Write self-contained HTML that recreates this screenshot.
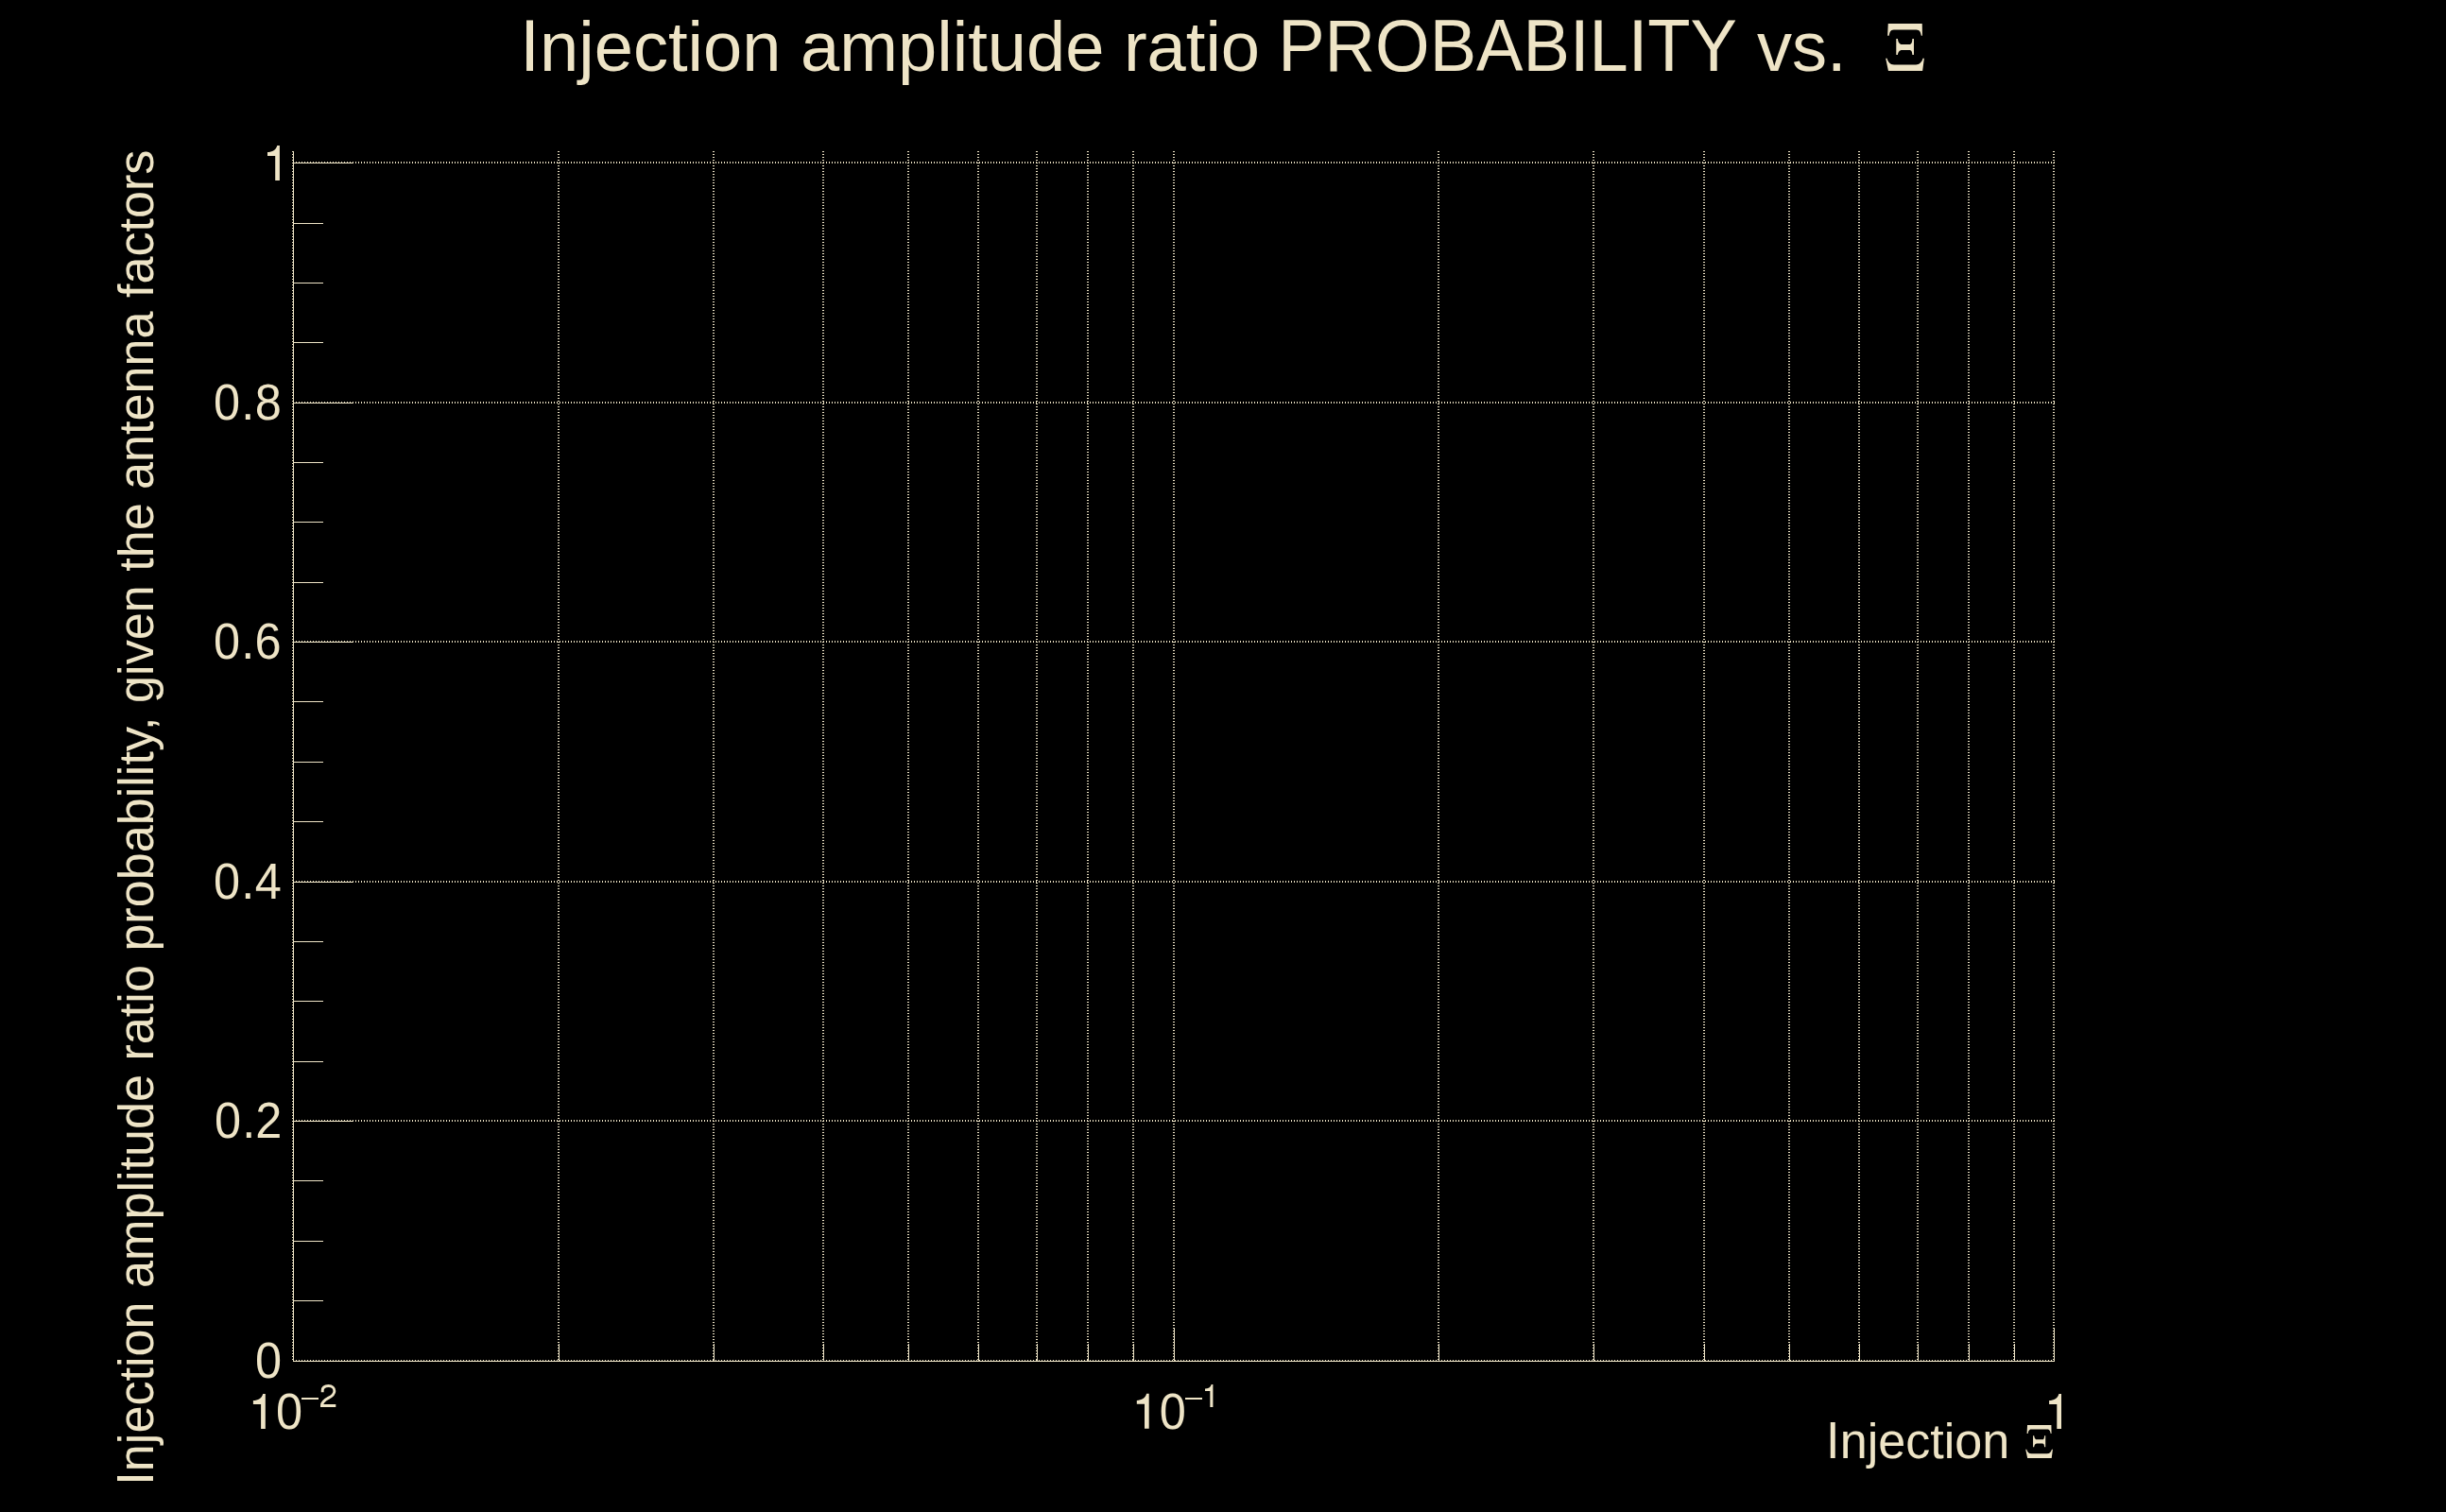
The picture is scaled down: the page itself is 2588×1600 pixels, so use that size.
<!DOCTYPE html><html><head><meta charset="utf-8"><style>html,body{margin:0;padding:0;background:#000;width:2588px;height:1600px;overflow:hidden;position:relative}svg{display:block;position:absolute;left:0;top:0}text{font-family:"Liberation Sans",sans-serif;fill:#EEE4C6}</style></head><body>
<svg width="2588" height="1600" viewBox="0 0 2588 1600" shape-rendering="crispEdges">
<defs><pattern id="pv" width="3" height="3" patternUnits="userSpaceOnUse"><rect x="0" y="1" width="3" height="1" fill="#EEE4C6"/></pattern>
<pattern id="ph" width="3" height="3" patternUnits="userSpaceOnUse"><rect x="1" y="0" width="1" height="3" fill="#EEE4C6"/></pattern></defs>
<rect width="2588" height="1600" fill="#000"/>
<rect x="309" y="160" width="2" height="1280" fill="url(#pv)"/>
<rect x="590" y="160" width="2" height="1280" fill="url(#pv)"/>
<rect x="754" y="160" width="2" height="1280" fill="url(#pv)"/>
<rect x="870" y="160" width="2" height="1280" fill="url(#pv)"/>
<rect x="960" y="160" width="2" height="1280" fill="url(#pv)"/>
<rect x="1034" y="160" width="2" height="1280" fill="url(#pv)"/>
<rect x="1096" y="160" width="2" height="1280" fill="url(#pv)"/>
<rect x="1150" y="160" width="2" height="1280" fill="url(#pv)"/>
<rect x="1198" y="160" width="2" height="1280" fill="url(#pv)"/>
<rect x="1241" y="160" width="2" height="1280" fill="url(#pv)"/>
<rect x="1521" y="160" width="2" height="1280" fill="url(#pv)"/>
<rect x="1685" y="160" width="2" height="1280" fill="url(#pv)"/>
<rect x="1802" y="160" width="2" height="1280" fill="url(#pv)"/>
<rect x="1892" y="160" width="2" height="1280" fill="url(#pv)"/>
<rect x="1966" y="160" width="2" height="1280" fill="url(#pv)"/>
<rect x="2028" y="160" width="2" height="1280" fill="url(#pv)"/>
<rect x="2082" y="160" width="2" height="1280" fill="url(#pv)"/>
<rect x="2130" y="160" width="2" height="1280" fill="url(#pv)"/>
<rect x="2172" y="160" width="2" height="1280" fill="url(#pv)"/>
<rect x="310" y="1439" width="1864" height="2" fill="url(#ph)"/>
<rect x="310" y="1185" width="1864" height="2" fill="url(#ph)"/>
<rect x="310" y="932" width="1864" height="2" fill="url(#ph)"/>
<rect x="310" y="678" width="1864" height="2" fill="url(#ph)"/>
<rect x="310" y="425" width="1864" height="2" fill="url(#ph)"/>
<rect x="310" y="171" width="1864" height="2" fill="url(#ph)"/>
<rect x="310" y="160" width="1" height="1281" fill="#EEE4C6"/>
<rect x="310" y="1440" width="1864" height="1" fill="#EEE4C6"/>
<rect x="310" y="1440" width="64" height="1" fill="#EEE4C6"/>
<rect x="310" y="1376" width="32" height="1" fill="#EEE4C6"/>
<rect x="310" y="1313" width="32" height="1" fill="#EEE4C6"/>
<rect x="310" y="1249" width="32" height="1" fill="#EEE4C6"/>
<rect x="310" y="1186" width="64" height="1" fill="#EEE4C6"/>
<rect x="310" y="1123" width="32" height="1" fill="#EEE4C6"/>
<rect x="310" y="1059" width="32" height="1" fill="#EEE4C6"/>
<rect x="310" y="996" width="32" height="1" fill="#EEE4C6"/>
<rect x="310" y="933" width="64" height="1" fill="#EEE4C6"/>
<rect x="310" y="869" width="32" height="1" fill="#EEE4C6"/>
<rect x="310" y="806" width="32" height="1" fill="#EEE4C6"/>
<rect x="310" y="742" width="32" height="1" fill="#EEE4C6"/>
<rect x="310" y="679" width="64" height="1" fill="#EEE4C6"/>
<rect x="310" y="616" width="32" height="1" fill="#EEE4C6"/>
<rect x="310" y="552" width="32" height="1" fill="#EEE4C6"/>
<rect x="310" y="489" width="32" height="1" fill="#EEE4C6"/>
<rect x="310" y="426" width="64" height="1" fill="#EEE4C6"/>
<rect x="310" y="362" width="32" height="1" fill="#EEE4C6"/>
<rect x="310" y="299" width="32" height="1" fill="#EEE4C6"/>
<rect x="310" y="236" width="32" height="1" fill="#EEE4C6"/>
<rect x="310" y="172" width="64" height="1" fill="#EEE4C6"/>
<rect x="310" y="1405" width="1" height="36" fill="#EEE4C6"/>
<rect x="591" y="1422" width="1" height="19" fill="#EEE4C6"/>
<rect x="755" y="1422" width="1" height="19" fill="#EEE4C6"/>
<rect x="871" y="1422" width="1" height="19" fill="#EEE4C6"/>
<rect x="961" y="1422" width="1" height="19" fill="#EEE4C6"/>
<rect x="1035" y="1422" width="1" height="19" fill="#EEE4C6"/>
<rect x="1097" y="1422" width="1" height="19" fill="#EEE4C6"/>
<rect x="1151" y="1422" width="1" height="19" fill="#EEE4C6"/>
<rect x="1199" y="1422" width="1" height="19" fill="#EEE4C6"/>
<rect x="1242" y="1405" width="1" height="36" fill="#EEE4C6"/>
<rect x="1522" y="1422" width="1" height="19" fill="#EEE4C6"/>
<rect x="1686" y="1422" width="1" height="19" fill="#EEE4C6"/>
<rect x="1803" y="1422" width="1" height="19" fill="#EEE4C6"/>
<rect x="1893" y="1422" width="1" height="19" fill="#EEE4C6"/>
<rect x="1967" y="1422" width="1" height="19" fill="#EEE4C6"/>
<rect x="2029" y="1422" width="1" height="19" fill="#EEE4C6"/>
<rect x="2083" y="1422" width="1" height="19" fill="#EEE4C6"/>
<rect x="2131" y="1422" width="1" height="19" fill="#EEE4C6"/>
<rect x="2173" y="1405" width="1" height="36" fill="#EEE4C6"/>
<rect x="319" y="1479" width="18" height="2" fill="#EEE4C6"/>
<rect x="1254" y="1479" width="18" height="2" fill="#EEE4C6"/>
</svg>
<svg width="2588" height="1600" viewBox="0 0 2588 1600" style="will-change:transform">
<g fill="#EEE4C6">
<path d="M2.74,0 H38.65 L38.85,12.86 H37.7 C37.2,10 36.5,6.5 32.5,6.5 H8.7 C4.8,6.5 4.2,10 3.73,12.86 H2.14 Z M11.27,16 H12.86 C13.3,19.5 14.5,22 17.5,22 H25 C27.8,22 28,19.5 28.3,16 H29.9 V33.1 H28.3 C28,30 27.8,27.9 25,27.9 H17.5 C14.5,27.9 13.3,30 12.86,33.1 H11.27 Z M0.16,36.7 H1.6 C2.8,40.5 4.5,43.4 9,43.4 H32 C36.5,43.4 38.2,40.5 39.4,36.7 H40.8 L39.05,50 H2.94 Z" transform="translate(1995.00,25.00) scale(1.0024,1.0000)"/>
<path d="M2.74,0 H38.65 L38.85,12.86 H37.7 C37.2,10 36.5,6.5 32.5,6.5 H8.7 C4.8,6.5 4.2,10 3.73,12.86 H2.14 Z M11.27,16 H12.86 C13.3,19.5 14.5,22 17.5,22 H25 C27.8,22 28,19.5 28.3,16 H29.9 V33.1 H28.3 C28,30 27.8,27.9 25,27.9 H17.5 C14.5,27.9 13.3,30 12.86,33.1 H11.27 Z M0.16,36.7 H1.6 C2.8,40.5 4.5,43.4 9,43.4 H32 C36.5,43.4 38.2,40.5 39.4,36.7 H40.8 L39.05,50 H2.94 Z" transform="translate(2143.10,1507.90) scale(0.7066,0.7020)"/>
<path d="M10.3,0 H12.9 V37 H8.2 V11 H0 V7.1 C5,7.1 9.3,4.5 10.3,0 Z" transform="translate(283.00,154.00) scale(1.0000)"/>
<path d="M10.3,0 H12.9 V37 H8.2 V11 H0 V7.1 C5,7.1 9.3,4.5 10.3,0 Z" transform="translate(2168.10,1474.90) scale(1.0000)"/>
<path d="M10.3,0 H12.9 V37 H8.2 V11 H0 V7.1 C5,7.1 9.3,4.5 10.3,0 Z" transform="translate(267.90,1474.90) scale(1.0000)"/>
<path d="M10.3,0 H12.9 V37 H8.2 V11 H0 V7.1 C5,7.1 9.3,4.5 10.3,0 Z" transform="translate(1202.80,1474.80) scale(1.0000)"/>
<path d="M10.3,0 H12.9 V37 H8.2 V11 H0 V7.1 C5,7.1 9.3,4.5 10.3,0 Z" transform="translate(1275.00,1464.90) scale(0.6514)"/>
</g>
<text transform="translate(550.18,75.00) scale(1,1.059)" font-size="74.10">I</text>
<text transform="translate(571.11,75.00) scale(1,1.000)" font-size="74.10">njection amplitude ratio</text>
<text transform="translate(1352.17,75.00) scale(1,1.059)" font-size="74.10">PROBABILITY</text>
<text transform="translate(1858.90,75.00) scale(1,1.000)" font-size="74.10">vs.</text>
<text transform="translate(162.20,1571.70) rotate(-90) scale(1,1.059)" font-size="52.14">I</text>
<text transform="translate(162.20,1557.14) rotate(-90) scale(1,1.000)" font-size="52.14">njection amplitude ratio probability, given the antenna factors</text>
<text transform="translate(1932.10,1543.00) scale(1,1.059)" font-size="52.14">I</text>
<text transform="translate(1946.66,1543.00) scale(1,1.000)" font-size="52.14">njection</text>
<text transform="translate(227.03,1204.00) scale(1,1.045)" font-size="50.50">0</text>
<text transform="translate(256.20,1204.00) scale(1,1.045)" font-size="50.50">.</text>
<text transform="translate(270.16,1204.00) scale(1,1.045)" font-size="50.50">2</text>
<text transform="translate(226.03,951.00) scale(1,1.045)" font-size="50.50">0</text>
<text transform="translate(255.20,951.00) scale(1,1.045)" font-size="50.50">.</text>
<text transform="translate(269.81,951.00) scale(1,1.045)" font-size="50.50">4</text>
<text transform="translate(226.03,697.00) scale(1,1.045)" font-size="50.50">0</text>
<text transform="translate(255.20,697.00) scale(1,1.045)" font-size="50.50">.</text>
<text transform="translate(269.48,697.00) scale(1,1.045)" font-size="50.50">6</text>
<text transform="translate(226.03,444.00) scale(1,1.045)" font-size="50.50">0</text>
<text transform="translate(255.20,444.00) scale(1,1.045)" font-size="50.50">.</text>
<text transform="translate(269.66,444.00) scale(1,1.045)" font-size="50.50">8</text>
<text transform="translate(269.96,1458.00) scale(1,1.045)" font-size="50.50">0</text>
<text transform="translate(292.03,1512.40) scale(1,1.045)" font-size="50.50">0</text>
<text transform="translate(1226.73,1512.40) scale(1,1.045)" font-size="50.50">0</text>
<path d="M341.2,1473.2 V1471.6 C341.2,1468 343.9,1466.45 347.6,1466.45 C351.3,1466.45 353.85,1468.7 353.85,1471.9 C353.85,1475.4 351.3,1477.3 347.4,1479.4 C342.8,1481.9 340.7,1484.1 340.45,1487.2 V1487.55 H355.3" fill="none" stroke="#EEE4C6" stroke-width="2.9"/>
</svg>
</body></html>
